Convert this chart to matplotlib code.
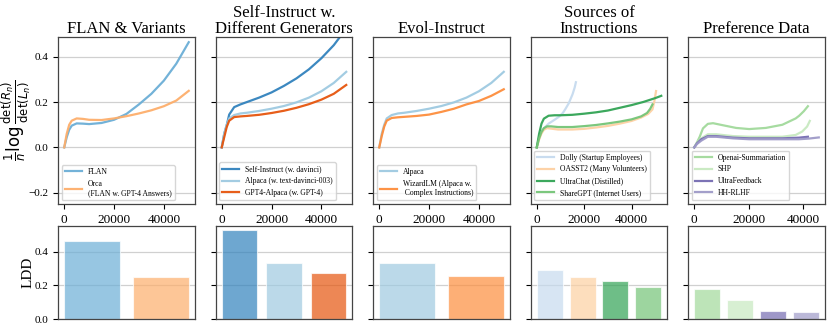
import numpy as np
import matplotlib.pyplot as plt

plt.rcParams['font.family'] = ['Liberation Serif', 'DejaVu Serif']
plt.rcParams['mathtext.fontset'] = 'dejavusans'

# --- curves: number of examples n vs (1/n) log det(R_n)/det(L_n) ---
x_50k = [0, 1000, 2000, 3000, 5000, 7500, 10000, 15000, 20000, 25000,
         30000, 35000, 40000, 45000, 50000]

flan_y = [0, 0.045, 0.078, 0.096, 0.106, 0.105, 0.103, 0.108, 0.122, 0.148,
          0.19, 0.237, 0.295, 0.37, 0.465]
orca_y = [0, 0.06, 0.1, 0.118, 0.128, 0.126, 0.122, 0.121, 0.128, 0.138,
          0.15, 0.164, 0.182, 0.207, 0.25]

selfinst_y = [0, 0.06, 0.098, 0.145, 0.178, 0.19, 0.2, 0.22, 0.243, 0.272,
              0.305, 0.345, 0.394, 0.452, 0.525]
alpaca_y = [0, 0.06, 0.1, 0.128, 0.143, 0.15, 0.153, 0.161, 0.171, 0.183,
            0.199, 0.22, 0.248, 0.285, 0.334]
gpt4alpaca_y = [0, 0.045, 0.09, 0.118, 0.134, 0.137, 0.139, 0.144, 0.152, 0.162,
                0.175, 0.191, 0.211, 0.237, 0.276]

wizardlm_y = [0, 0.05, 0.092, 0.118, 0.13, 0.133, 0.135, 0.139, 0.145, 0.157,
              0.171, 0.19, 0.205, 0.228, 0.257]

dolly_x = [0, 1000, 2300, 5000, 7500, 9300, 11000, 12100, 13500, 15100, 16000, 16500]
dolly_y = [0, 0.045, 0.077, 0.105, 0.122, 0.135, 0.152, 0.17, 0.195, 0.235, 0.265, 0.288]

oasst2_x = [0, 1000, 2000, 3000, 4300, 6000, 9000, 15000, 20000, 25000, 30000,
            35000, 40000, 44000, 47000, 48800, 49600, 50300]
oasst2_y = [0, 0.035, 0.062, 0.078, 0.085, 0.083, 0.079, 0.079, 0.082, 0.088, 0.095,
            0.105, 0.117, 0.132, 0.148, 0.168, 0.205, 0.249]

ultrachat_x = [0, 1000, 2000, 3000, 5000, 7500, 10000, 15000, 20000, 25000, 30000,
               35000, 40000, 45000, 50000, 52500]
ultrachat_y = [0, 0.06, 0.105, 0.127, 0.14, 0.142, 0.142, 0.144, 0.149, 0.155, 0.163,
               0.175, 0.187, 0.201, 0.218, 0.228]

sharegpt_x = [0, 1000, 2000, 3000, 4300, 6000, 9000, 15000, 20000, 25000, 30000,
              35000, 40000, 44000, 46500, 47800, 48800]
sharegpt_y = [0, 0.04, 0.068, 0.085, 0.093, 0.093, 0.09, 0.09, 0.094, 0.099, 0.106,
              0.114, 0.124, 0.137, 0.152, 0.17, 0.19]

openai_x = [0, 1000, 2000, 3200, 5000, 6900, 10500, 15400, 20200, 26300, 32400,
            37300, 38600, 40300, 41800]
openai_y = [0, 0.022, 0.047, 0.084, 0.104, 0.107, 0.098, 0.086, 0.081, 0.086, 0.1,
            0.128, 0.14, 0.16, 0.182]

shp_x = [0, 1000, 2600, 5000, 8000, 14200, 20200, 32400, 37300, 39700, 41500, 42500]
shp_y = [0, 0.02, 0.04, 0.058, 0.058, 0.05, 0.047, 0.047, 0.055, 0.07, 0.092, 0.117]

ultrafb_x = [0, 1000, 2600, 5000, 8000, 14200, 20200, 32400, 38500, 41800]
ultrafb_y = [0, 0.018, 0.036, 0.05, 0.05, 0.043, 0.04, 0.04, 0.043, 0.047]

hhrlhf_x = [0, 1000, 2600, 5000, 8000, 14200, 20200, 32400, 38500, 42200, 45800]
hhrlhf_y = [0, 0.015, 0.03, 0.047, 0.047, 0.04, 0.036, 0.036, 0.036, 0.039, 0.044]

# --- LDD bars ---
ldd_flan = [0.465, 0.25]
ldd_selfinst = [0.53, 0.334, 0.276]
ldd_evol = [0.334, 0.255]
ldd_sources = [0.29, 0.248, 0.228, 0.192]
ldd_pref = [0.18, 0.116, 0.046, 0.042]

titles = ['FLAN & Variants', 'Self-Instruct w.\nDifferent Generators',
          'Evol-Instruct', 'Sources of\nInstructions', 'Preference Data']

panels = [
    [('FLAN', x_50k, flan_y, '#6baed6'),
     ('Orca\n(FLAN w. GPT-4 Answers)', x_50k, orca_y, '#fdae6b')],
    [('Self-Instruct (w. davinci)', x_50k, selfinst_y, '#3182bd'),
     ('Alpaca (w. text-davinci-003)', x_50k, alpaca_y, '#9ecae1'),
     ('GPT4-Alpaca (w. GPT-4)', x_50k, gpt4alpaca_y, '#e6550d')],
    [('Alpaca', x_50k, alpaca_y, '#9ecae1'),
     ('WizardLM (Alpaca w.\n Complex Instructions)', x_50k, wizardlm_y, '#fd8d3c')],
    [('Dolly (Startup Employees)', dolly_x, dolly_y, '#c6dbef'),
     ('OASST2 (Many Volunteers)', oasst2_x, oasst2_y, '#fdd0a2'),
     ('UltraChat (Distilled)', ultrachat_x, ultrachat_y, '#31a354'),
     ('ShareGPT (Internet Users)', sharegpt_x, sharegpt_y, '#74c476')],
    [('Openai-Summariation', openai_x, openai_y, '#a1d99b'),
     ('SHP', shp_x, shp_y, '#c7e9c0'),
     ('UltraFeedback', ultrafb_x, ultrafb_y, '#756bb1'),
     ('HH-RLHF', hhrlhf_x, hhrlhf_y, '#9e9ac8')],
]
ldds = [ldd_flan, ldd_selfinst, ldd_evol, ldd_sources, ldd_pref]

fig, axes = plt.subplots(2, 5, figsize=(8.3, 3.3), dpi=100,
                         gridspec_kw={'height_ratios': [167, 93]})
fig.subplots_adjust(left=58/830, right=825/830, top=1-37/330, bottom=11/330,
                    wspace=0.15, hspace=0.17)

for i in range(5):
    ax = axes[0, i]
    bx = axes[1, i]
    for label, xs, ys, c in panels[i]:
        ax.plot(xs, ys, color=c, lw=1.6, label=label, alpha=0.95)
    ax.set_ylim(-0.25, 0.488)
    ax.set_yticks([-0.2, 0.0, 0.2, 0.4])
    ax.set_xticks([0, 20000, 40000])
    ax.set_title(titles[i], fontsize=12, pad=3, linespacing=1.0)
    ax.legend(loc='lower left', fontsize=5.5, handlelength=2.2)
    ax.grid(axis='y', color='#d0d0d0', lw=0.9)
    ax.set_axisbelow(True)
    ax.tick_params(axis='x', labelsize=9.5, length=3.5, width=0.8)
    ax.tick_params(axis='y', labelsize=8, length=3.5, width=0.8)

    colors = [p[3] for p in panels[i]]
    bx.bar(range(len(ldds[i])), ldds[i], color=colors, alpha=0.7,
           edgecolor='white', linewidth=0.8, width=0.8)
    bx.set_ylim(0, 0.555)
    bx.set_yticks([0.0, 0.2, 0.4])
    bx.set_xticks([])
    bx.grid(axis='y', color='#d0d0d0', lw=0.9)
    bx.set_axisbelow(True)
    bx.tick_params(axis='y', labelsize=8, length=3.5, width=0.8)
    if i > 0:
        ax.set_yticklabels([])
        bx.set_yticklabels([])
    for a in (ax, bx):
        for s in a.spines.values():
            s.set_color('#444444')
            s.set_linewidth(0.9)

axes[0, 0].set_ylabel(r'$\frac{1}{n}\log\frac{\det(R_n)}{\det(L_n)}$', fontsize=12)
axes[0, 0].yaxis.set_label_coords(-0.185, 0.5)
axes[1, 0].set_ylabel('LDD', fontsize=11)
axes[1, 0].yaxis.set_label_coords(-0.17, 0.5)

plt.savefig('out.png', dpi=100)
